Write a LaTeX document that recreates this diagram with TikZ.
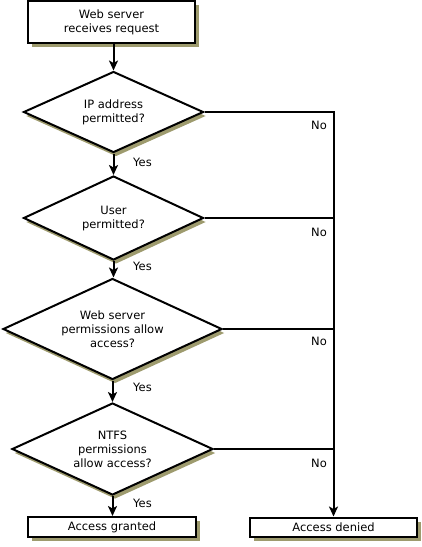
\documentclass[tikz,border=0pt]{standalone}
\usepackage{fontspec}
\setmainfont{DejaVu Sans}
\usetikzlibrary{shapes.geometric,shadows,arrows.meta}
\definecolor{shadowc}{RGB}{158,155,110}
\begin{document}
\begin{tikzpicture}[x=1pt,y=-1pt,
  every node/.style={font=\fontsize{11.5}{14}\selectfont},
  box/.style={draw, line width=2pt, fill=white, inner sep=0pt, align=center,
    general shadow={fill=shadowc, shadow xshift=4pt, shadow yshift=-4pt}},
  dec/.style={diamond, draw, line width=2pt, fill=white, inner sep=0pt, aspect=2.2, align=center,
    general shadow={fill=shadowc, shadow xshift=2.5pt, shadow yshift=-4pt}},
  conn/.style={line width=2pt},
  arr/.style={conn, -{Stealth[length=10pt,width=9pt,inset=2.5pt]}},
  lbl/.style={inner sep=0pt}]
\useasboundingbox (0,0) rectangle (421,547);

\node[box, minimum width=167pt, minimum height=42pt] (start) at (111.5,22) {Web server\\receives request};
\node[dec, minimum width=180pt, minimum height=81pt] (d1) at (113.5,112) {IP address\\permitted?};
\node[dec, minimum width=180pt, minimum height=84pt] (d2) at (113.5,218) {User\\permitted?};
\node[dec, minimum width=219pt, minimum height=101pt] (d3) at (112.5,329) {Web server\\permissions allow\\access?};
\node[dec, minimum width=201pt, minimum height=92pt] (d4) at (112.5,449) {NTFS\\permissions\\allow access?};
\node[box, minimum width=168pt, minimum height=20pt] (granted) at (112,527) {Access granted};
\node[box, minimum width=167pt, minimum height=19pt] (denied) at (333.5,527) {Access denied};

\draw[arr] (start.south -| d1.north) -- (d1.north);
\draw[arr] (d1.south) -- (d2.north);
\draw[arr] (d2.south) -- (d3.north -| d2.south);
\draw[arr] (d3.south) -- (d4.north -| d3.south);
\draw[arr] (d4.south) -- (d4.south |- granted.north);

\draw[arr] (d1.east) -| (denied.north);
\draw[conn] (d2.east) -- (d2.east -| denied.north);
\draw[conn] (d3.east) -- (d3.east -| denied.north);
\draw[conn] (d4.east) -- (d4.east -| denied.north);

\node[lbl, anchor=west] (y1) at (133,162) {Yes};
\node[lbl, anchor=west] (y2) at (133,266) {Yes};
\node[lbl, anchor=west] (y3) at (133,387) {Yes};
\node[lbl, anchor=west] (y4) at (133,503) {Yes};
\node[lbl, anchor=east] (n1) at (327,125) {No};
\node[lbl, anchor=east] (n2) at (327,232) {No};
\node[lbl, anchor=east] (n3) at (327,341) {No};
\node[lbl, anchor=east] (n4) at (327,463) {No};
\end{tikzpicture}
\end{document}
